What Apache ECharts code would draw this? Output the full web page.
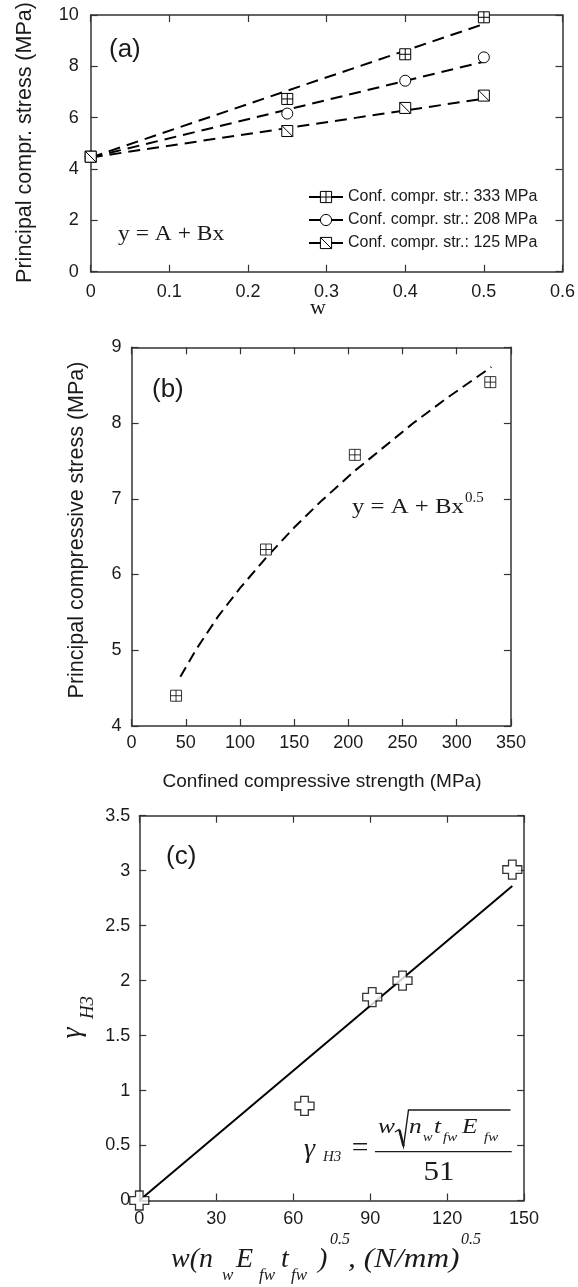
<!DOCTYPE html>
<html><head><meta charset="utf-8">
<script src="https://cdn.jsdelivr.net/npm/echarts@6/dist/echarts.min.js"></script>
<style>html,body{margin:0;padding:0;background:#fff}#c{width:578px;height:1287px}</style>
</head><body><div id="c"></div>
<script>
// ---------- Panel (a) ----------
const aW = [0, 0.25, 0.4, 0.5];
const a333 = [4.48, 6.73, 8.47, 9.91];
const a208 = [4.48, 6.16, 7.44, 8.35];
const a125 = [4.48, 5.48, 6.38, 6.86];
const aFitW = [0, 0.5];
const aFit333 = [4.45, 9.65];
const aFit208 = [4.45, 8.18];
const aFit125 = [4.45, 6.74];
const aXTicks = [0, 0.1, 0.2, 0.3, 0.4, 0.5, 0.6];
const aYTicks = [0, 2, 4, 6, 8, 10];
const aNames = ['Conf. compr. str.: 333 MPa', 'Conf. compr. str.: 208 MPa', 'Conf. compr. str.: 125 MPa'];

// ---------- Panel (b) ----------
const bX = [41, 124, 206, 331];
const bY = [4.40, 6.33, 7.58, 8.54];
const bFitX = [45, 60, 80, 100, 124, 150, 175, 206, 230, 260, 290, 332];
const bFitY = [4.65, 5.02, 5.45, 5.82, 6.22, 6.62, 6.97, 7.37, 7.65, 8.00, 8.32, 8.74];
const bXTicks = [0, 50, 100, 150, 200, 250, 300, 350];
const bYTicks = [4, 5, 6, 7, 8, 9];

// ---------- Panel (c) ----------
const cX = [0, 64.4, 90.8, 102.6, 145.4];
const cY = [0, 0.86, 1.85, 2.00, 3.01];
const cFitX = [0, 145.4];
const cFitY = [0, 2.86];
const cXTicks = [0, 30, 60, 90, 120, 150];
const cYTicks = [0, 0.5, 1, 1.5, 2, 2.5, 3, 3.5];

const zip = (xs, ys) => xs.map((x, i) => [x, ys[i]]);
const INK = '#1a1a1a';
const AX = '#333';
const SANS = '"Liberation Sans", Arial, sans-serif';
const SERIF = '"Liberation Serif", "Times New Roman", serif';

const SYM_SQPLUS = 'path://M0,0L10,0L10,10L0,10Z M5,0L5,10 M0,5L10,5';
const SYM_SQDIAG = 'path://M0,0L10,0L10,10L0,10Z M0,0L10,10';
const SYM_CROSS = 'path://M3,0L7,0L7,3L10,3L10,7L7,7L7,10L3,10L3,7L0,7L0,3L3,3Z';

function axisPair(dim, gi, ticks, margin) {
  const base = {
    gridIndex: gi, type: 'value',
    min: ticks[0], max: ticks[ticks.length - 1], interval: ticks[1] - ticks[0],
    axisLine: { show: true, onZero: false, lineStyle: { color: AX, width: 1.5 } },
    axisTick: { show: true, inside: true, length: 7, lineStyle: { color: AX, width: 1.2 } },
    splitLine: { show: false },
    axisLabel: { show: true, margin: margin, fontSize: 18, fontFamily: SANS, color: INK }
  };
  const main = Object.assign({}, base, { position: dim === 'x' ? 'bottom' : 'left' });
  const mirror = Object.assign({}, base, {
    position: dim === 'x' ? 'top' : 'right',
    axisLabel: { show: false }
  });
  return [main, mirror];
}

const xAxes = [].concat(axisPair('x', 0, aXTicks, 11), axisPair('x', 1, bXTicks, 8.5), axisPair('x', 2, cXTicks, 10));
const yAxes = [].concat(axisPair('y', 0, aYTicks, 12), axisPair('y', 1, bYTicks, 10), axisPair('y', 2, cYTicks, 9));

const markerStyle = { color: '#fff', borderColor: '#000', borderWidth: 1 };

function fitLine(name, xi, yi, data, dash, solid) {
  return {
    name: name, type: 'line', xAxisIndex: xi, yAxisIndex: yi, data: data,
    symbol: 'none', silent: true, clip: false, z: 2,
    lineStyle: { color: '#000', width: 2, type: solid ? 'solid' : dash }
  };
}
function markerLine(name, data, sym) {
  return {
    name: name, type: 'line', xAxisIndex: 0, yAxisIndex: 0, data: data,
    symbol: sym, symbolSize: 11, showSymbol: true, clip: false, z: 3,
    lineStyle: { width: 0, opacity: 0 },
    itemStyle: markerStyle
  };
}

const series = [
  fitLine('fit333', 0, 0, zip(aFitW, aFit333), [12, 7]),
  fitLine('fit208', 0, 0, zip(aFitW, aFit208), [12, 7]),
  fitLine('fit125', 0, 0, zip(aFitW, aFit125), [12, 7]),
  markerLine(aNames[0], zip(aW, a333), SYM_SQPLUS),
  markerLine(aNames[1], zip(aW, a208), 'circle'),
  markerLine(aNames[2], zip(aW, a125), SYM_SQDIAG),
  fitLine('fitB', 2, 2, zip(bFitX, bFitY), [11, 6]),
  { name: 'ptsB', type: 'scatter', xAxisIndex: 2, yAxisIndex: 2, data: zip(bX, bY),
    symbol: SYM_SQPLUS, symbolSize: 11, clip: false, z: 3, itemStyle: markerStyle },
  fitLine('fitC', 4, 4, zip(cFitX, cFitY), null, true),
  { name: 'ptsC', type: 'scatter', xAxisIndex: 4, yAxisIndex: 4, data: zip(cX, cY),
    symbol: SYM_CROSS, symbolSize: 19, clip: false, z: 3,
    itemStyle: { color: '#fff', borderColor: '#000', borderWidth: 1.3 } }
];

function txt(x, y, text, font, opts) {
  opts = opts || {};
  const al = opts.align || 'left';
  const va = opts.va || 'middle';
  const el = {
    type: 'text', x: x, y: y, z: 10,
    style: { text: text, font: font, fill: INK, align: al, textAlign: al, verticalAlign: va, textVerticalAlign: va }
  };
  if (opts.rot) el.rotation = opts.rot;
  if (opts.sx) el.scaleX = opts.sx;
  return el;
}
const R90 = Math.PI / 2;
const it = (s) => 'italic ' + s + 'px ' + SERIF;
const up = (s) => s + 'px ' + SERIF;
const sans = (s) => s + 'px ' + SANS;

const graphics = [
  // panel (a)
  txt(109, 50, '(a)', sans(26)),
  txt(118, 234, 'y = A + Bx', up(21), { sx: 1.12 }),
  txt(318, 308, 'w', up(22), { align: 'center' }),
  txt(25, 142.5, 'Principal compr. stress (MPa)', sans(21.5), { align: 'center', rot: R90 }),
  // panel (b)
  txt(152, 390, '(b)', sans(26)),
  txt(352, 507, 'y = A + Bx', up(21), { sx: 1.18 }),
  txt(465, 498, '0.5', up(15)),
  txt(77, 530, 'Principal compressive stress (MPa)', sans(21.5), { align: 'center', rot: R90 }),
  txt(322, 782, 'Confined compressive strength (MPa)', sans(19), { align: 'center' }),
  // panel (c)
  txt(166, 857, '(c)', sans(26)),
  txt(73, 1033, 'γ', it(28), { align: 'center', rot: R90 }),
  txt(87.5, 1007.5, 'H3', it(19), { align: 'center', rot: R90 }),
  // x title (c)
  txt(171, 1260, 'w(n', it(28)),
  txt(222, 1275.6, 'w', it(17)),
  txt(236, 1260, 'E', it(28)),
  txt(259, 1275.6, 'fw', it(17)),
  txt(281, 1260, 't', it(28)),
  txt(291, 1275.6, 'fw', it(17)),
  txt(318, 1260, ')', it(28)),
  txt(330, 1240, '0.5', it(16)),
  txt(348, 1260, ', (N/mm)', it(28), { sx: 1.12 }),
  txt(461, 1240, '0.5', it(16)),
  // formula
  txt(304, 1150, 'γ', it(28)),
  txt(323, 1156.6, 'H3', it(15)),
  txt(360, 1149.2, '=', up(27), { align: 'center', sx: 1.1 }),
  txt(378, 1127.5, 'w', it(22), { sx: 1.15 }),
  txt(409, 1127.5, 'n', it(22), { sx: 1.15 }),
  txt(423, 1137.3, 'w', it(13), { sx: 1.1 }),
  txt(434, 1127.5, 't', it(22), { sx: 1.15 }),
  txt(443, 1137.3, 'fw', it(13), { sx: 1.15 }),
  txt(462, 1127.5, 'E', it(22), { sx: 1.15 }),
  txt(484, 1137.3, 'fw', it(13), { sx: 1.15 }),
  txt(439, 1172.5, '51', up(27), { align: 'center', sx: 1.15 }),
  { type: 'line', z: 10, shape: { x1: 375, y1: 1151.7, x2: 511.7, y2: 1151.7 }, style: { stroke: INK, lineWidth: 1.3 } },
  { type: 'polyline', z: 10, shape: { points: [[395, 1132], [399, 1129.5], [403.5, 1146.5], [408.5, 1110], [510.5, 1110]] },
    style: { stroke: INK, lineWidth: 1.4, fill: null } },
  { type: 'line', z: 10, shape: { x1: 399.5, y1: 1130, x2: 403.5, y2: 1146 }, style: { stroke: INK, lineWidth: 2.4 } }
];

const option = {
  animation: false,
  backgroundColor: '#fff',
  grid: [
    { left: 90.7, top: 15, width: 475.1, height: 256.7 },
    { left: 131.6, top: 347.3, width: 379.3, height: 378.7 },
    { left: 139.3, top: 815.7, width: 384.8, height: 384.8 }
  ],
  xAxis: xAxes,
  yAxis: yAxes,
  legend: {
    data: aNames, orient: 'vertical', left: 308, top: 189, padding: 0,
    itemWidth: 34, itemHeight: 14, itemGap: 7,
    textStyle: { fontSize: 16, fontFamily: SANS, color: INK },
    itemStyle: { color: '#fff', borderColor: '#000', borderWidth: 1 },
    lineStyle: { color: '#000', width: 2, type: 'solid', opacity: 1 },
    selectedMode: false
  },
  series: series,
  graphic: graphics
};
echarts.init(document.getElementById('c'), null, { renderer: 'canvas' }).setOption(option);
</script></body></html>
